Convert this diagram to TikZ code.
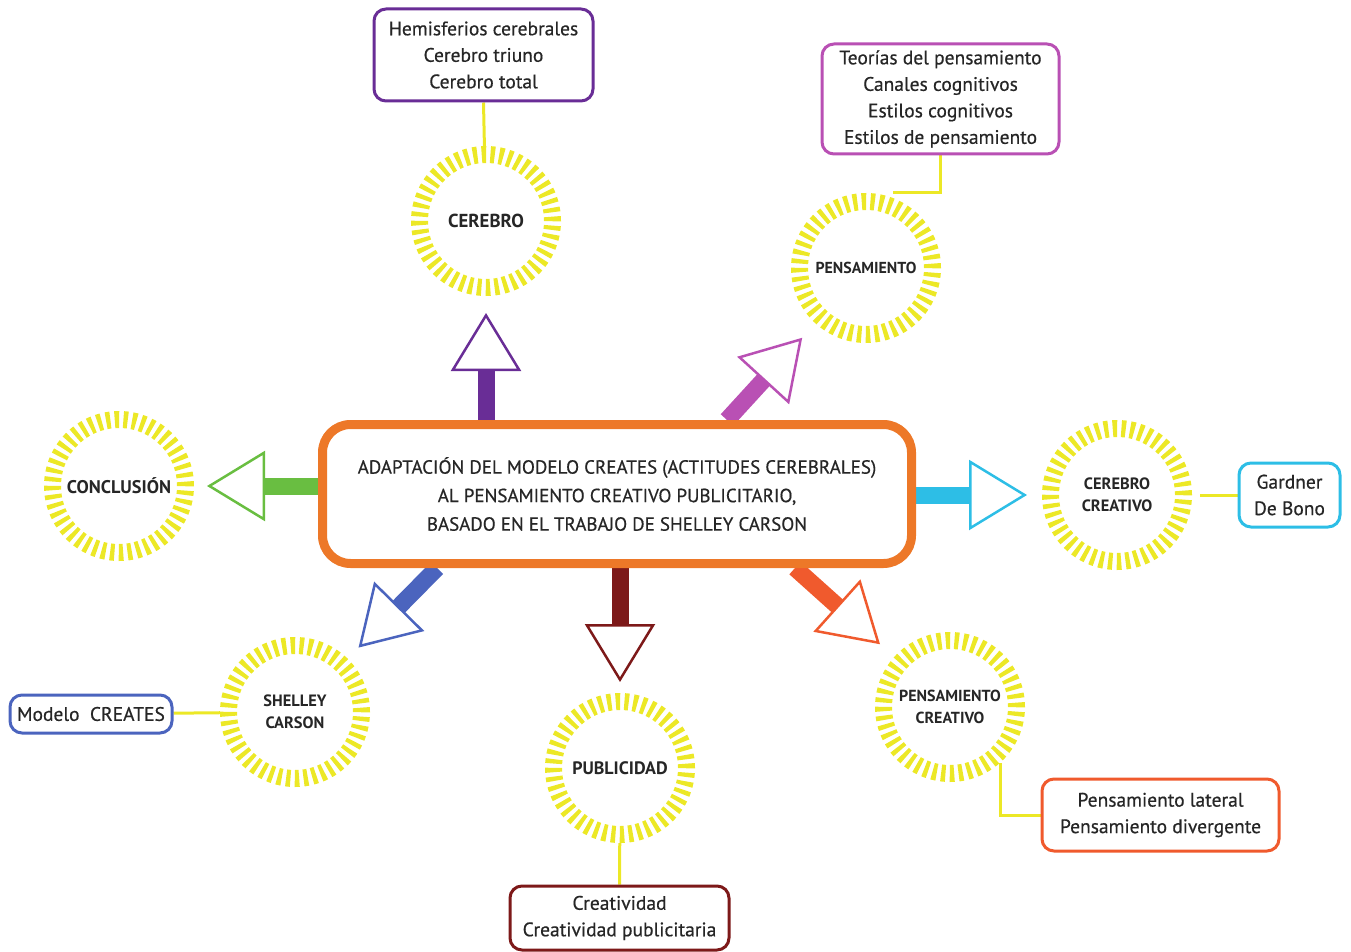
\documentclass[tikz,border=0pt]{standalone}
\usepackage{fontspec}
\setmainfont{PT Sans}
\newfontfamily\medfont{PT Sans}[FakeBold=0.5]
\usepackage{tikz}
\usetikzlibrary{arrows.meta, backgrounds, calc}
\definecolor{sunyellow}{RGB}{236,232,38}
\definecolor{mainorange}{RGB}{237,120,40}
\definecolor{cerpurple}{RGB}{105,45,150}
\definecolor{penmagenta}{RGB}{185,80,180}
\definecolor{conclgreen}{RGB}{105,190,65}
\definecolor{crecyan}{RGB}{45,190,230}
\definecolor{shelblue}{RGB}{75,100,190}
\definecolor{pubred}{RGB}{125,25,25}
\definecolor{pcorange}{RGB}{240,90,45}
\tikzset{
  mainbox/.style={rectangle, rounded corners=28pt, minimum width=589pt, minimum height=139pt,
    draw=mainorange, line width=9pt, fill=white, align=center, text=black!85,
    font=\medfont\fontsize{19}{28.5}\selectfont},
  sun/.style={circle, draw=sunyellow, line width=17pt, dash pattern=on 4.35pt off 4.35pt,
    minimum size=133pt, inner sep=0pt, align=center, text=black!85,
    font=\fontsize{16.4}{22}\selectfont\bfseries},
  leafbox/.style={rectangle, rounded corners=12pt, line width=3pt, fill=white, align=center,
    inner sep=0pt, text=black!85, font=\medfont\fontsize{19.5}{26.5}\selectfont},
  bigarrow/.style={line width=17pt, draw=#1,
    -{Triangle[length=58pt, width=70pt, line width=2.5pt, fill=white]}},
  link/.style={draw=sunyellow, line width=3pt}
}
\begin{document}
\begin{tikzpicture}[x=1pt, y=-1pt]
  \useasboundingbox (0,0) rectangle (1351,952);
  \node[mainbox] (main) at (617,494)
        {ADAPTACIÓN DEL MODELO CREATES (ACTITUDES CEREBRALES)\\
         AL PENSAMIENTO CREATIVO PUBLICITARIO,\\
         BASADO EN EL TRABAJO DE SHELLEY CARSON};
  % circles
  \node[sun, font=\fontsize{18.8}{22}\selectfont\bfseries] (cerebro) at (486,221) {CEREBRO};
  \node[sun, font=\fontsize{15.9}{22}\selectfont\bfseries] (pens) at (866,268) {PENSAMIENTO};
  \node[sun, font=\fontsize{18.3}{22}\selectfont\bfseries] (concl) at (119,486) {CONCLUSIÓN};
  \node[sun]  (crecer)  at (1117,495) {CEREBRO\\CREATIVO};
  \node[sun]  (shelley) at (295,712) {SHELLEY\\CARSON};
  \node[sun, font=\fontsize{18}{22}\selectfont\bfseries] (pub) at (620,768) {PUBLICIDAD};
  \node[sun, font=\fontsize{16}{22}\selectfont\bfseries] (pc) at (950,707) {PENSAMIENTO\\CREATIVO};
  % boxes
  \node[leafbox, draw=cerpurple, minimum width=219pt, minimum height=92pt] (cerBox) at (483.5,55)
        {Hemisferios cerebrales\\Cerebro triuno\\Cerebro total};
  \node[leafbox, draw=penmagenta, minimum width=237pt, minimum height=110pt] (pensBox) at (940.5,99)
        {Teorías del pensamiento\\Canales cognitivos\\Estilos cognitivos\\Estilos de pensamiento};
  \node[leafbox, draw=crecyan, minimum width=101pt, minimum height=64pt] (gardBox) at (1289.5,495)
        {Gardner\\De Bono};
  \node[leafbox, draw=shelblue, minimum width=162pt, minimum height=38pt] (modBox) at (91,714)
        {Modelo\ \ CREATES};
  \node[leafbox, draw=pubred, minimum width=219pt, minimum height=64pt] (creatBox) at (619.5,918)
        {Creatividad\\Creatividad publicitaria};
  \node[leafbox, draw=pcorange, minimum width=237pt, minimum height=72pt] (latBox) at (1160.5,815)
        {Pensamiento lateral\\Pensamiento divergente};
  \coordinate (pensTouch) at ($(pens.north)+(27,0)$);
  \begin{scope}[on background layer]
    \draw[bigarrow=cerpurple, shorten >=17pt] (main.north -| cerebro) -- (cerebro);
    \draw[bigarrow=penmagenta, shorten >=19.5pt] ($(main.north)+(110,0)$) -- (pens);
    \draw[bigarrow=conclgreen, shorten >=13pt] (main.west |- concl) -- (concl);
    \draw[bigarrow=crecyan, shorten >=15pt] (main.east |- crecer) -- (crecer);
    \draw[bigarrow=shelblue, shorten >=15.5pt] ($(main.south)+(-180,0)$) -- (shelley);
    \draw[bigarrow=pubred, shorten >=11pt] (main.south -| pub) -- (pub);
    \draw[bigarrow=pcorange, shorten >=19pt] ($(main.south)+(178,0)$) -- (pc);
    % links to boxes
    \draw[link] (cerBox.south) -- (cerebro);
    \draw[link] (pensBox.south) |- (pensTouch);
    \draw[link, shorten <=8pt] (crecer) -- (gardBox);
    \draw[link] (shelley) -- (modBox);
    \draw[link] (pub) -- (creatBox);
    \draw[link] (latBox.west) -| (pc.-48);
  \end{scope}
\end{tikzpicture}
\end{document}
